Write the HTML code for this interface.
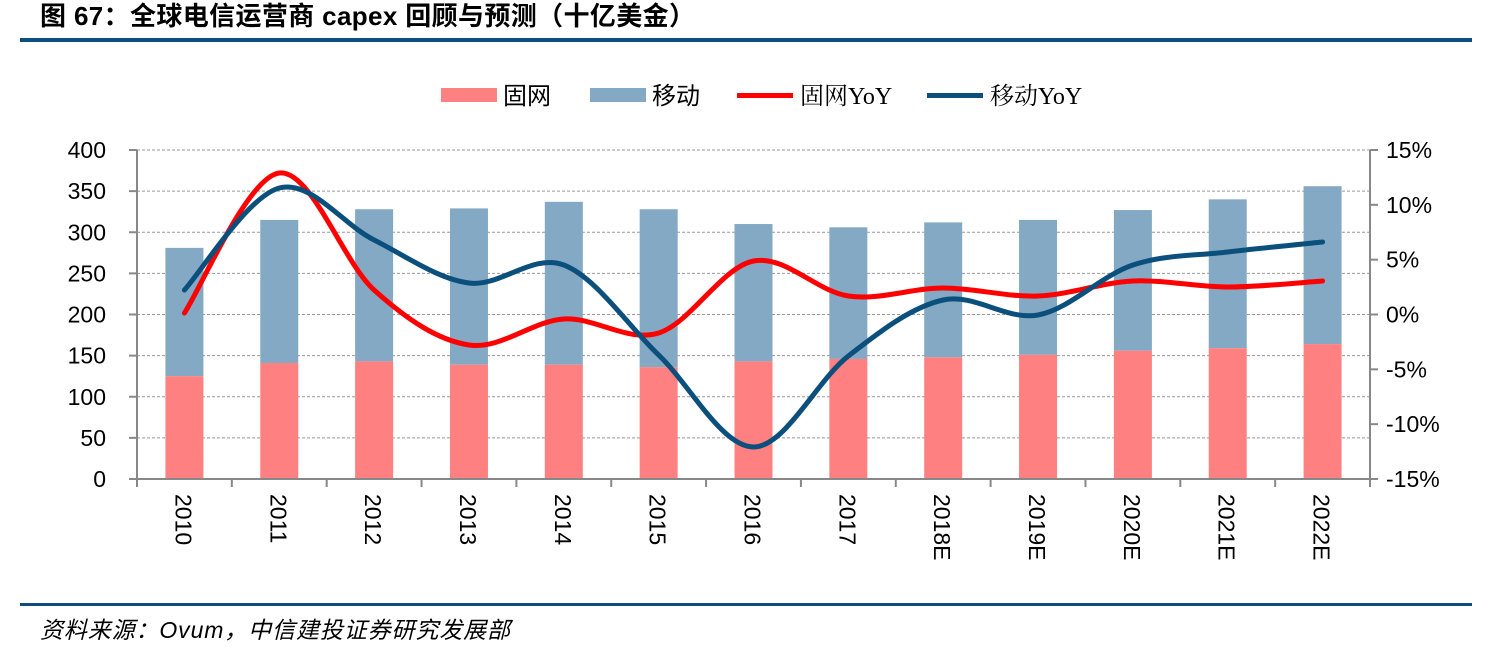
<!DOCTYPE html>
<html><head><meta charset="utf-8"><style>
body{margin:0;background:#fff;width:1500px;height:643px;overflow:hidden;font-family:"Liberation Sans","Noto Sans CJK SC",sans-serif}
</style></head><body>
<svg id="s" width="1500" height="643" xmlns="http://www.w3.org/2000/svg" font-family="Liberation Sans, Noto Sans CJK SC, sans-serif">
<text x="40" y="25" font-size="26" font-weight="bold" fill="#000" textLength="655">图 67：全球电信运营商 capex 回顾与预测（十亿美金）</text>
<rect x="20" y="38" width="1452" height="4" fill="#0f4c81"/>
<rect x="20" y="603" width="1452" height="3" fill="#0f4c81"/>
<text x="40" y="638" font-size="23" font-style="italic" fill="#000" textLength="470">资料来源：Ovum，中信建投证券研究发展部</text>
<g font-size="24" fill="#000">
<rect x="441" y="88" width="56" height="14" fill="#ff8080"/><text x="503" y="104">固网</text>
<rect x="590" y="88" width="56" height="14" fill="#84a9c4"/><text x="652" y="104">移动</text>
<rect x="737" y="93" width="56" height="5" fill="#ff0000"/><text x="800" y="104" font-family="Liberation Serif, Noto Serif CJK SC, serif">固网YoY</text>
<rect x="927" y="93" width="56" height="5" fill="#0b4f7c"/><text x="990" y="104" font-family="Liberation Serif, Noto Serif CJK SC, serif">移动YoY</text>
</g>
<g id="g"></g>
</svg>
<script>
var g=document.getElementById('g'),h='';
var L=137,R=1370,T=150,B=479,k=(B-T)/400,w=(R-L)/13;
for(var i=0;i<=8;i++){var y=T+i*(B-T)/8;
 if(i<8)h+='<line x1="'+L+'" x2="'+R+'" y1="'+y+'" y2="'+y+'" stroke="#999" stroke-dasharray="3,2" stroke-width="1"/>';
 h+='<line x1="129" x2="'+L+'" y1="'+y+'" y2="'+y+'" stroke="#888" stroke-width="2"/>';
 h+='<text x="106" y="'+(y+8)+'" font-size="23" text-anchor="end">'+(400-i*50)+'</text>';}
for(var i=0;i<=6;i++){var y=T+i*(B-T)/6;
 h+='<line x1="'+R+'" x2="1378" y1="'+y+'" y2="'+y+'" stroke="#888" stroke-width="2"/>';
 h+='<text x="1386" y="'+(y+8)+'" font-size="23">'+(15-i*5)+'%</text>';}
var f=[125,141,143,139,139,136,143,146,148,151,156,159,164],t=[281,315,328,329,337,328,310,306,312,315,327,340,356];
var yr=['2010','2011','2012','2013','2014','2015','2016','2017','2018E','2019E','2020E','2021E','2022E'];
for(var i=0;i<13;i++){var c=L+w/2+i*w;
 h+='<rect x="'+(c-19)+'" y="'+(B-t[i]*k)+'" width="38" height="'+((t[i]-f[i])*k)+'" fill="#84a9c4"/>';
 h+='<rect x="'+(c-19)+'" y="'+(B-f[i]*k)+'" width="38" height="'+(f[i]*k)+'" fill="#ff8080"/>';
 h+='<text transform="translate('+(c-9)+',494) rotate(90)" font-size="23">'+yr[i]+'</text>';}
for(var i=0;i<=13;i++){var x=L+i*w;h+='<line x1="'+x+'" x2="'+x+'" y1="'+B+'" y2="487" stroke="#888" stroke-width="2"/>';}
h+='<line x1="'+L+'" x2="'+L+'" y1="'+T+'" y2="'+B+'" stroke="#888" stroke-width="2"/>';
h+='<line x1="'+R+'" x2="'+R+'" y1="'+T+'" y2="'+B+'" stroke="#888" stroke-width="2"/>';
h+='<line x1="'+L+'" x2="'+R+'" y1="'+B+'" y2="'+B+'" stroke="#888" stroke-width="2"/>';
function path(ys,col){var p=ys.map(function(y,i){return [L+w/2+i*w,y]});var d='M'+p[0][0]+','+p[0][1];
 for(var i=0;i<p.length-1;i++){var p0=p[i-1]||p[i],p1=p[i],p2=p[i+1],p3=p[i+2]||p2,s=6;
  d+=' C'+(p1[0]+(p2[0]-p0[0])/s)+','+(p1[1]+(p2[1]-p0[1])/s)+' '+(p2[0]-(p3[0]-p1[0])/s)+','+(p2[1]-(p3[1]-p1[1])/s)+' '+p2[0]+','+p2[1];}
 return '<path d="'+d+'" fill="none" stroke="'+col+'" stroke-width="5" stroke-linecap="round"/>';}
h+=path([313,173,290,345,319,333,261,296,288,296,281,287,281],'#ff0000');
h+=path([290,188,240,283,265,355,447,356,300,315,265,252,242],'#0b4f7c');
g.innerHTML=h;
</script>
</body></html>
